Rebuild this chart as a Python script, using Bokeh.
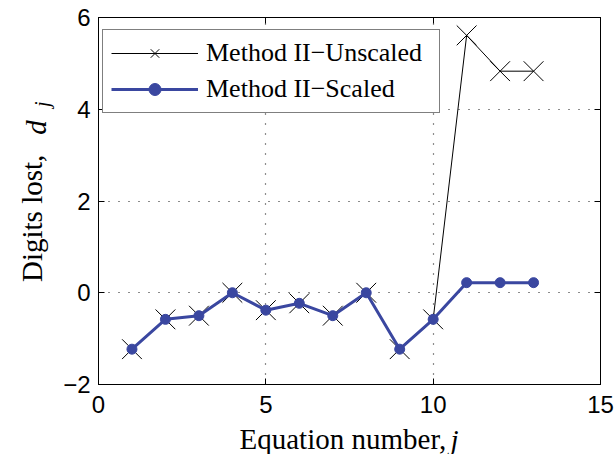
from bokeh.plotting import figure
from bokeh.models import Range1d, FixedTicker, LinearAxis, Legend, LegendItem, Label
from bokeh.embed import file_html
from bokeh.resources import INLINE

# ---- data ----
equation = [1, 2, 3, 4, 5, 6, 7, 8, 9, 10, 11, 12, 13]
unscaled = [-1.23, -0.58, -0.50, 0.0, -0.38, -0.23, -0.50, 0.0, -1.23, -0.58, 5.61, 4.83, 4.83]
scaled = [-1.23, -0.58, -0.50, 0.0, -0.38, -0.23, -0.50, 0.0, -1.23, -0.58, 0.22, 0.22, 0.22]
x_ticks = [0, 5, 10, 15]
y_ticks = [-2, 0, 2, 4, 6]
y_tick_labels = {-2: "\u22122", 0: "0", 2: "2", 4: "4", 6: "6"}
legend_labels = ["Method II\u2212Unscaled", "Method II\u2212Scaled"]
x_label_text = "Equation number,"
x_label_var = "j"
y_label_text = "Digits lost,"
y_label_var = "d"
y_label_sub = "j"

BLUE = "#3A47A0"
SERIF = "Liberation Serif"
SANS = "Liberation Sans"

p = figure(width=614, height=454, x_range=Range1d(0, 15), y_range=Range1d(-2, 6),
           output_backend="svg", toolbar_location=None,
           min_border_left=98, min_border_right=14, min_border_top=17, min_border_bottom=70)
p.background_fill_color = "white"
p.border_fill_color = "white"
p.outline_line_color = "black"
p.outline_line_width = 1

for ax in (p.xaxis[0], p.yaxis[0]):
    ax.major_tick_in = 6
    ax.major_tick_out = 0
    ax.minor_tick_line_color = None
    ax.axis_line_color = "black"
    ax.major_tick_line_color = "black"
    ax.major_label_text_font = SANS
    ax.major_label_text_font_size = "24px"
    ax.major_label_text_color = "black"
p.xaxis.ticker = FixedTicker(ticks=x_ticks)
p.yaxis.ticker = FixedTicker(ticks=y_ticks)
p.yaxis.major_label_overrides = y_tick_labels
p.xaxis.major_label_standoff = 11
p.yaxis.major_label_standoff = 8

# box axes on top and right (ticks only)
top = LinearAxis(ticker=FixedTicker(ticks=x_ticks), major_tick_in=6, major_tick_out=0,
                 minor_tick_line_color=None, major_label_text_font_size="1px",
                 major_label_overrides={t: "" for t in x_ticks},
                 major_label_standoff=0, axis_line_color="black")
right = LinearAxis(ticker=FixedTicker(ticks=y_ticks), major_tick_in=6, major_tick_out=0,
                   minor_tick_line_color=None, major_label_text_font_size="1px",
                   major_label_overrides={t: "" for t in y_ticks},
                   major_label_standoff=0, axis_line_color="black")
p.add_layout(top, "above")
p.add_layout(right, "right")

p.xgrid.ticker = FixedTicker(ticks=x_ticks)
p.ygrid.ticker = FixedTicker(ticks=y_ticks)
for g in (p.xgrid[0], p.ygrid[0]):
    g.grid_line_color = "black"
    g.grid_line_dash = "1 9"
    g.grid_line_width = 1.2
    g.grid_line_alpha = 0.9

# series
l1 = p.line(equation, unscaled, line_color="black", line_width=1)
s1 = p.scatter(equation, unscaled, marker="x", size=28, line_color="black", line_width=1)
l2 = p.line(equation, scaled, line_color=BLUE, line_width=3)
s2 = p.scatter(equation, scaled, marker="circle", size=10, fill_color=BLUE, line_color=BLUE)

legend = Legend(items=[LegendItem(label=legend_labels[0], renderers=[l1, s1]),
                       LegendItem(label=legend_labels[1], renderers=[l2, s2])],
                location=(4, 271), margin=0, padding=8, spacing=6,
                glyph_width=87, glyph_height=30, label_height=30, label_width=225,
                label_standoff=8,
                label_text_font=SERIF, label_text_font_size="26px",
                label_text_color="black",
                border_line_color="black", border_line_width=1.3,
                background_fill_color="white", background_fill_alpha=1)
p.add_layout(legend)

# axis labels, placed in side panels so that they are not clipped to the frame
def lab(text, x, y, size, italic=False, angle=0):
    return Label(x=x, y=y, x_units="screen", y_units="screen", text=text,
                 angle=angle, angle_units="deg", text_font=SERIF,
                 text_font_style="italic" if italic else "normal",
                 text_font_size=size, text_align="left",
                 text_baseline="alphabetic", text_color="black")

p.add_layout(lab(x_label_text, 141, 9, "29px"), "below")
p.add_layout(lab(x_label_var, -150, -55, "29px", italic=True), "right")
p.add_layout(lab(y_label_text, 3.7, 102.5, "29px", angle=90), "left")
p.add_layout(lab(y_label_sub, 35.8, 277.5, "20px", italic=True, angle=90), "left")
p.add_layout(lab(y_label_var, -62.7, -117.3, "29px", italic=True, angle=90), "above")

open("out.html", "w").write(file_html(p, INLINE))
